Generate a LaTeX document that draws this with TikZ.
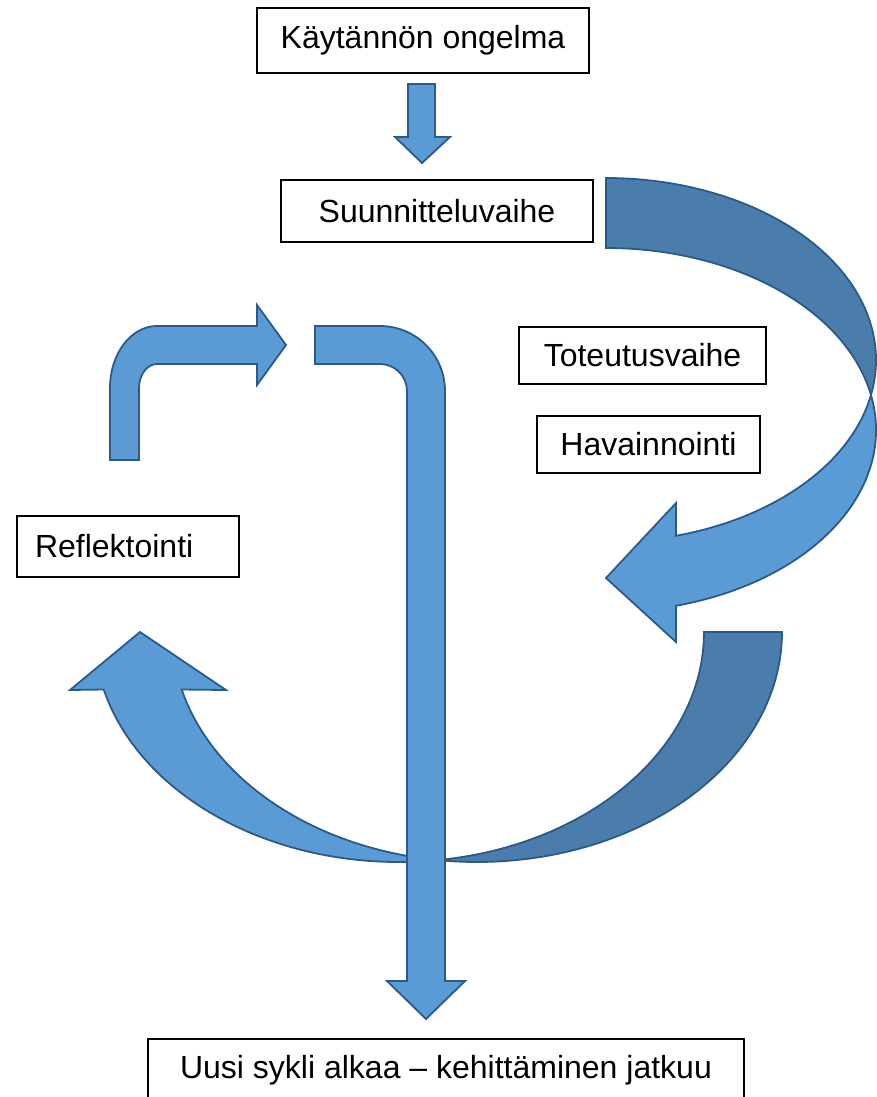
\documentclass[tikz,border=0pt]{standalone}
\usepackage{fontspec}
\setmainfont{Liberation Sans}
\usepackage{tikz}
\usetikzlibrary{calc}
\definecolor{ArrowBlue}{HTML}{5B9BD5}
\definecolor{ArrowBack}{HTML}{4A7DAB}
\definecolor{ArrowLine}{HTML}{2B5A88}

\begin{document}
\begin{tikzpicture}[x=1pt, y=-1pt,
  front/.style = {fill = ArrowBlue, draw = ArrowLine, line width = 1.8pt},
  back/.style = {fill = ArrowBack, draw = ArrowLine, line width = 1.8pt},
  textbox/.style 2 args = {draw, fill = white, line width = 1.3pt, inner sep = 0pt,
    minimum width = #1, minimum height = #2, font = \fontsize{32}{38}\selectfont}]
  \useasboundingbox (0,0) rectangle (876,1097);

  % right curved arrow, two ellipses 70 apart
  \coordinate (rupper) at (606,360); \coordinate (rlower) at (606,430);
  \draw[back] (606,178) arc (-90:11.09:270 and 182) arc (-11.09:-90:270 and 182) -- cycle;
  \draw[front] ($(rlower)+(-11.09:270 and 182)$) arc (-11.09:75:270 and 182)
    -- (676,642) -- (606,578) -- (676,503)
    -- ($(rupper)+(75:270 and 182)$) arc (75:11.09:270 and 182) -- cycle;

  % lower curved arrow, two ellipses 78 apart
  \coordinate (bleft) at (399,632); \coordinate (bright) at (477,632);
  \draw[back] (782,632) arc (0:97.35:305 and 230) arc (82.65:0:305 and 230) -- cycle;
  \draw[front] ($(bleft)+(82.65:305 and 230)$) arc (82.65:165.52:305 and 230)
    -- (70,690) -- (140,632) -- (226,690)
    -- ($(bright)+(165.52:305 and 230)$) arc (165.52:97.35:305 and 230) -- cycle;

  % long bent arrow down the middle
  \draw[front] (315,326) -- (380,326) arc (-90:0:65) -- (445,981) -- (465,981)
    -- (426,1019) -- (387,981) -- (407,981) -- (407,391) arc (0:-90:27)
    -- (315,364) -- cycle;

  % small bent arrow, left
  \draw[front] (110,460) -- (110,388) arc (180:270:47 and 62) -- (257,326)
    -- (257,305) -- (286,345) -- (257,385) -- (257,364) -- (157,364)
    arc (270:180:18 and 24) -- (139,460) -- cycle;

  % short arrow under the first box
  \draw[front] (408,84) -- (435,84) -- (435,137) -- (450,137) -- (422,163)
    -- (395,137) -- (408,137) -- cycle;

  % phases
  \node[textbox = {332pt}{65pt}] (problem) at (423,40.5) {Käytännön ongelma};
  \node[textbox = {312pt}{62pt}] (planning) at (437,211) {Suunnitteluvaihe};
  \node[textbox = {247pt}{57pt}] (acting) at (642.5,355.5) {Toteutusvaihe};
  \node[textbox = {223pt}{57pt}] (observing) at (648.5,444.5) {Havainnointi};
  \node[textbox = {222pt}{61pt}, inner xsep = 18pt, text width = 186pt, align = left]
    (reflecting) at (128,546.5) {Reflektointi};
  \node[textbox = {596pt}{62pt}] (newcycle) at (446,1070)
    {Uusi sykli alkaa -- kehittäminen jatkuu};

\end{tikzpicture}
\end{document}
